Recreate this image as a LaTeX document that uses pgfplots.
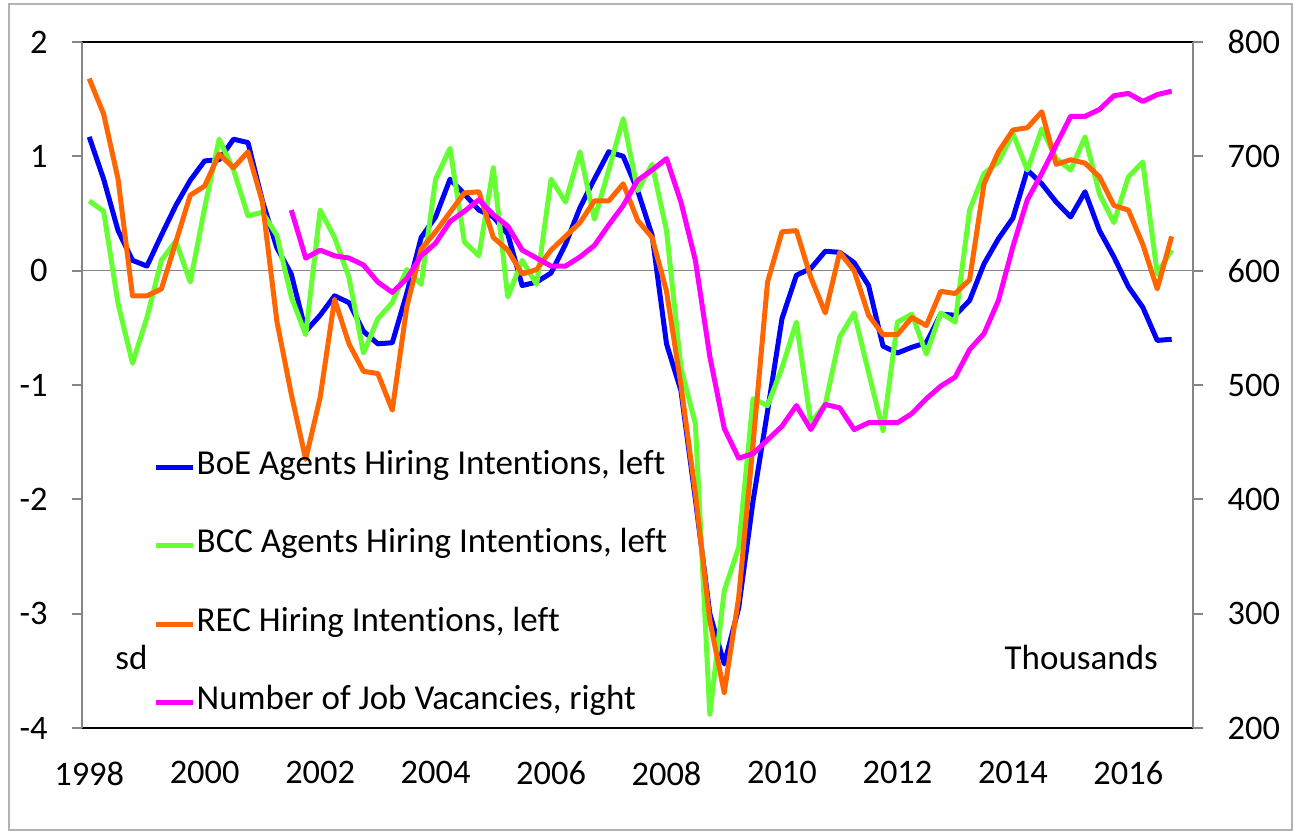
\documentclass[border=0pt]{standalone}
\usepackage{fontspec}
\setmainfont{Carlito}[Ligatures={NoCommon}]
\usepackage{pgfplots}
\usepackage{pgfplotstable}
\pgfplotsset{compat=1.18}
\definecolor{boe}{RGB}{0,0,255}
\definecolor{bcc}{RGB}{102,255,51}
\definecolor{rec}{RGB}{255,102,0}
\definecolor{vac}{RGB}{255,0,255}
\definecolor{axgray}{RGB}{134,134,134}

\pgfplotstableread{
t boe bcc rec vac
1998.125 1.17 0.61 1.68 nan
1998.375 0.80 0.52 1.37 nan
1998.625 0.35 -0.29 0.80 nan
1998.875 0.09 -0.81 -0.22 nan
1999.125 0.04 -0.41 -0.22 nan
1999.375 0.31 0.09 -0.16 nan
1999.625 0.57 0.26 0.25 nan
1999.875 0.79 -0.10 0.66 nan
2000.125 0.96 0.55 0.74 nan
2000.375 0.97 1.15 1.02 nan
2000.625 1.15 0.88 0.90 nan
2000.875 1.12 0.48 1.04 nan
2001.125 0.61 0.51 0.60 nan
2001.375 0.20 0.31 -0.44 nan
2001.625 -0.03 -0.23 -1.08 653
2001.875 -0.53 -0.56 -1.65 611
2002.125 -0.39 0.53 -1.11 618
2002.375 -0.22 0.29 -0.25 613
2002.625 -0.28 -0.06 -0.64 611
2002.875 -0.53 -0.72 -0.88 605
2003.125 -0.64 -0.42 -0.90 590
2003.375 -0.63 -0.28 -1.22 581
2003.625 -0.20 0.01 -0.32 593
2003.875 0.29 -0.12 0.19 613
2004.125 0.47 0.80 0.34 624
2004.375 0.80 1.07 0.51 643
2004.625 0.67 0.25 0.68 652
2004.875 0.53 0.13 0.69 662
2005.125 0.47 0.90 0.29 649
2005.375 0.32 -0.23 0.18 639
2005.625 -0.13 0.09 -0.03 618
2005.875 -0.10 -0.12 0.01 611
2006.125 -0.02 0.80 0.18 604
2006.375 0.23 0.60 0.30 604
2006.625 0.55 1.04 0.42 612
2006.875 0.80 0.45 0.61 622
2007.125 1.04 0.88 0.61 640
2007.375 1.00 1.33 0.76 657
2007.625 0.70 0.70 0.44 679
2007.875 0.31 0.93 0.29 688
2008.125 -0.64 0.35 -0.18 698
2008.375 -1.05 -0.85 -1.00 660
2008.625 -2.00 -1.34 -1.95 609
2008.875 -3.00 -3.88 -3.06 525
2009.125 -3.44 -2.80 -3.69 462
2009.375 -2.95 -2.42 -2.86 436
2009.625 -2.01 -1.12 -1.51 440
2009.875 -1.23 -1.18 -0.10 452
2010.125 -0.42 -0.85 0.34 464
2010.375 -0.04 -0.45 0.35 482
2010.625 0.02 -1.33 -0.06 461
2010.875 0.17 -1.17 -0.37 483
2011.125 0.16 -0.58 0.16 480
2011.375 0.07 -0.37 0.00 461
2011.625 -0.13 -0.89 -0.39 467
2011.875 -0.66 -1.40 -0.56 467
2012.125 -0.72 -0.45 -0.56 467
2012.375 -0.67 -0.38 -0.41 475
2012.625 -0.63 -0.73 -0.48 488
2012.875 -0.38 -0.37 -0.18 499
2013.125 -0.39 -0.45 -0.20 507
2013.375 -0.26 0.53 -0.08 531
2013.625 0.06 0.85 0.76 545
2013.875 0.28 0.95 1.04 574
2014.125 0.46 1.20 1.23 621
2014.375 0.88 0.88 1.25 662
2014.625 0.76 1.24 1.39 685
2014.875 0.60 0.98 0.93 710
2015.125 0.47 0.88 0.97 735
2015.375 0.69 1.17 0.94 735
2015.625 0.35 0.67 0.82 741
2015.875 0.12 0.42 0.57 753
2016.125 -0.14 0.82 0.53 755
2016.375 -0.32 0.95 0.23 748
2016.625 -0.61 -0.03 -0.16 754
2016.875 -0.60 0.18 0.30 757
}\data

\begin{document}
\begin{tikzpicture}
\useasboundingbox (0,0) rectangle (647.5bp,416.5bp);
\draw[gray!60, line width=1bp] (4.5bp,1.5bp) rectangle (645.8bp,414.5bp);
\begin{axis}[
  at={(41bp,52.5bp)}, anchor=south west,
  width=555.65bp, height=343bp, scale only axis,
  xmin=1998, xmax=2017.25, ymin=-4, ymax=2,
  separate axis lines,
  x axis line style={black, line width=1bp},
  y axis line style={axgray, line width=1bp},
  xtick={1998.125,2000.125,2002.125,2004.125,2006.125,2008.125,2010.125,2012.125,2014.125,2016.125},
  xticklabels={1998,2000,2002,2004,2006,2008,2010,2012,2014,2016},
  xtick style={draw=none},
  xticklabel style={anchor=north, inner sep=0pt, yshift=-11.6bp},
  ytick={-4,-3,-2,-1,0,1,2},
  yticklabels={-4,-3,-2,-1,0,1,2},
  ytick pos=left, tick align=outside, major tick length=5bp,
  ytick style={axgray, line width=1bp},
  yticklabel style={anchor=east, inner sep=0pt, xshift=-12bp},
  tick label style={font=\fontsize{17.2bp}{20bp}\selectfont},
  legend style={at={(0.0640,0.4025)}, anchor=north west, draw=none, fill=none,
    inner sep=0pt, row sep=24.25bp,
    font=\fontsize{17.5bp}{20bp}\selectfont,
    nodes={inner sep=0pt, text height=11bp, text depth=4bp}},
  legend cell align=left,
  legend image code/.code={\draw[#1] (0bp,0bp) -- (18.5bp,0bp);},
  /tikz/every odd column/.append style={column sep=0.6bp},
  line join=round,
]
\addplot[axgray, line width=0.75bp, forget plot] coordinates {(1998,0) (2017.25,0)};
\addplot[boe, line width=2.5bp] table[x=t, y=boe] {\data};
\addlegendentry{BoE Agents Hiring Intentions, left}
\addplot[bcc, line width=2.5bp] table[x=t, y=bcc] {\data};
\addlegendentry{BCC Agents Hiring Intentions, left}
\addplot[rec, line width=2.5bp] table[x=t, y=rec] {\data};
\addlegendentry{REC Hiring Intentions, left}
\addlegendimage{vac, line width=2.5bp}
\addlegendentry{Number of Job Vacancies, right}
\node[anchor=base west, inner sep=0pt, font=\fontsize{17.5bp}{20bp}\selectfont] at (rel axis cs:0.0297,0.086) {sd};
\node[anchor=base east, inner sep=0pt, font=\fontsize{17.5bp}{20bp}\selectfont] at (rel axis cs:0.9685,0.086) {Thousands};
\end{axis}
\begin{axis}[
  at={(41bp,52.5bp)}, anchor=south west,
  width=555.65bp, height=343bp, scale only axis,
  xmin=1998, xmax=2017.25, ymin=200, ymax=800,
  axis x line=none, axis y line*=right,
  y axis line style={axgray, line width=1bp},
  ytick={200,300,400,500,600,700,800},
  yticklabels={200,300,400,500,600,700,800},
  tick align=outside, major tick length=5bp,
  ytick style={axgray, line width=1bp},
  yticklabel style={anchor=west, inner sep=0pt, xshift=12bp},
  tick label style={font=\fontsize{17.2bp}{20bp}\selectfont},
  line join=round,
]
\addplot[vac, line width=2.5bp] table[x=t, y=vac] {\data};
\end{axis}
\end{tikzpicture}
\end{document}
